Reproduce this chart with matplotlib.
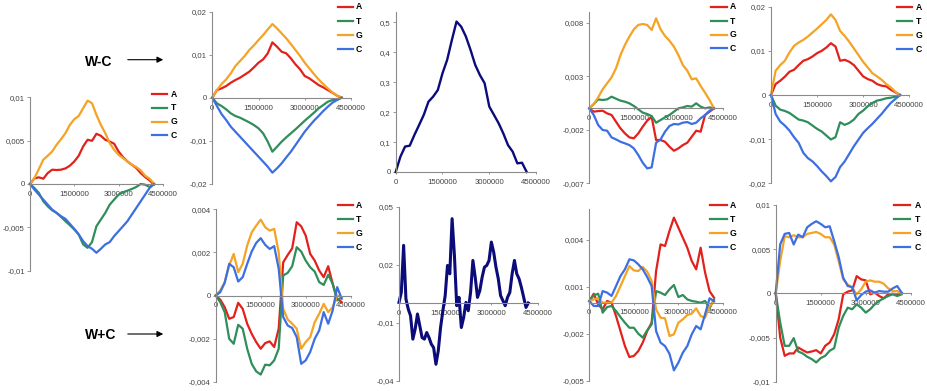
import matplotlib
matplotlib.use('Agg')
import matplotlib.pyplot as plt
from matplotlib.lines import Line2D
from matplotlib.patches import FancyArrowPatch

plt.rcParams['font.family'] = ['Liberation Sans', 'DejaVu Sans']

W, H = 927, 391

# genome position (Mb) sampling grid
X = [0, 0.15, 0.3, 0.45, 0.6, 0.75, 0.9, 1.05, 1.2, 1.35, 1.5, 1.65, 1.8, 1.95, 2.1,
     2.25, 2.4, 2.55, 2.7, 2.85, 3.0, 3.15, 3.3, 3.45, 3.6, 3.75, 3.9, 4.05, 4.2]
X_FINE = [0, 0.075, 0.15, 0.225, 0.3, 0.375, 0.45, 0.525, 0.6, 0.675, 0.75, 0.825, 0.9,
          0.975, 1.05, 1.125, 1.2, 1.275, 1.35, 1.425, 1.5, 1.575, 1.65, 1.725, 1.8, 1.875,
          1.95, 2.025, 2.1, 2.175, 2.25, 2.325, 2.4, 2.475, 2.55, 2.625, 2.7, 2.775, 2.85,
          2.925, 3.0, 3.075, 3.15, 3.225, 3.3, 3.375, 3.45, 3.525, 3.6, 3.675, 3.75, 3.825,
          3.9, 3.975, 4.05, 4.125, 4.2]
XTICKS = [0, 1.5, 3.0, 4.5]
XTICK_LABELS = ['0', '1500000', '3000000', '4500000']
BASES = ['A', 'T', 'G', 'C']
COLORS = {'A': '#E3211C', 'T': '#2F8E5A', 'G': '#F4A325', 'C': '#3C6FE2'}
NAVY = '#0B0B7A'

# ---- Panel 1 (left, W-C) ----
P1_A = [0, 0.00065, 0.00077, 0.00061, 0.00126, 0.00165, 0.00161, 0.00165, 0.0018, 0.00211,
        0.0026, 0.00326, 0.00433, 0.0051, 0.00498, 0.00579, 0.00556, 0.0051, 0.0049, 0.00464,
        0.00375, 0.0031, 0.0026, 0.00222, 0.00184, 0.00126, 0.0008, 0.00042, -0.00008]
P1_T = [0, -0.00046, -0.00103, -0.00199, -0.00257, -0.00303, -0.00333, -0.00379, -0.00429,
        -0.00475, -0.00525, -0.00582, -0.00697, -0.00736, -0.0067, -0.00487, -0.0041, -0.00333,
        -0.00238, -0.0018, -0.00123, -0.00096, -0.00077, -0.00057, -0.00034, 0, -0.00008,
        -0.00034, 0]
P1_G = [0, 0.00069, 0.00172, 0.0028, 0.00326, 0.00375, 0.00452, 0.00517, 0.00586, 0.00682,
        0.00747, 0.00785, 0.00873, 0.00962, 0.00931, 0.00797, 0.00682, 0.00586, 0.00471,
        0.00395, 0.00337, 0.00299, 0.0026, 0.00222, 0.00195, 0.00157, 0.00096, 0.00061, 0.00004]
P1_C = [0, -0.00065, -0.00123, -0.0018, -0.00238, -0.00295, -0.00333, -0.00372, -0.00402,
        -0.0046, -0.00517, -0.00582, -0.00659, -0.00716, -0.00747, -0.00793, -0.00747, -0.00697,
        -0.0067, -0.00601, -0.00544, -0.00487, -0.00429, -0.00352, -0.00276, -0.00199, -0.00123,
        -0.00046, 0]

# ---- Panel 2 (top) ----
P2_A = [0, 0.00178, 0.00217, 0.00271, 0.00349, 0.00411, 0.00465, 0.00535, 0.00605, 0.00705,
        0.00814, 0.00891, 0.01031, 0.01287, 0.01186, 0.0107, 0.01031, 0.00915, 0.00775, 0.00659,
        0.00504, 0.0045, 0.00372, 0.00295, 0.0024, 0.00178, 0.00116, 0.00047, 0]
P2_T = [0, -0.00132, -0.00194, -0.00271, -0.00364, -0.00426, -0.00465, -0.00519, -0.00574,
        -0.00636, -0.00713, -0.00829, -0.01023, -0.01256, -0.0114, -0.01023, -0.00922, -0.00829,
        -0.00736, -0.00636, -0.00535, -0.00442, -0.00349, -0.00248, -0.00171, -0.00093, -0.00054,
        -0.00039, 0]
P2_G = [0, 0.00178, 0.00318, 0.00426, 0.00566, 0.00736, 0.00853, 0.00969, 0.01109, 0.01217,
        0.01341, 0.01457, 0.01589, 0.01713, 0.01612, 0.01496, 0.0138, 0.01248, 0.01109, 0.00969,
        0.00814, 0.00682, 0.0055, 0.00426, 0.00318, 0.00217, 0.00124, 0.00047, 0]
P2_C = [0, -0.00194, -0.0038, -0.00519, -0.00674, -0.00791, -0.00907, -0.01023, -0.0114,
        -0.01256, -0.01372, -0.01488, -0.01605, -0.01744, -0.01643, -0.01527, -0.01388, -0.01256,
        -0.01101, -0.00946, -0.00791, -0.00659, -0.00535, -0.00426, -0.0031, -0.00209, -0.00116,
        -0.00054, 0]

# ---- Panel 3 (top, skew sum) ----
P3_S = [0, 0.051, 0.085, 0.088, 0.124, 0.157, 0.191, 0.235, 0.252, 0.274, 0.33, 0.375, 0.441,
        0.503, 0.486, 0.453, 0.408, 0.358, 0.324, 0.297, 0.219, 0.191, 0.163, 0.129, 0.09,
        0.068, 0.029, 0.031, 0]

# ---- Panel 4 (top) ----
P4_A = [0, -0.00031, -0.00025, -0.00022, -0.00047, -0.00062, -0.00125, -0.00187, -0.00234,
        -0.00271, -0.0028, -0.00234, -0.00171, -0.00115, -0.00078, -0.00296, -0.00296, -0.00312,
        -0.00358, -0.00396, -0.00374, -0.00343, -0.00321, -0.00265, -0.00209, -0.00218, -0.00062,
        -0.00031, 0]
P4_T = [0, 0.0004, 0.00084, 0.00078, 0.00084, 0.00109, 0.0009, 0.00072, 0.00062, 0.00047,
        0.00022, -0.00009, -0.0004, -0.00053, -0.00072, -0.00134, -0.00109, -0.00084, -0.00062,
        -0.00031, 0, 0.00009, 0.00022, 0.00016, 0.00047, 0.00016, 0, 0.00009, 0]
P4_G = [0, 0.0004, 0.00103, 0.00178, 0.00234, 0.0029, 0.00374, 0.00498, 0.00592, 0.0067,
        0.00738, 0.00779, 0.00788, 0.00779, 0.00732, 0.00841, 0.00738, 0.00676, 0.00632, 0.00576,
        0.00498, 0.00405, 0.00352, 0.00271, 0.0028, 0.00209, 0.00146, 0.00078, 0]
P4_C = [0, -0.00062, -0.00156, -0.00202, -0.00209, -0.00271, -0.0029, -0.00312, -0.00327,
        -0.00343, -0.00374, -0.00436, -0.00508, -0.00561, -0.00551, -0.00321, -0.0029, -0.00218,
        -0.00165, -0.00146, -0.0015, -0.00134, -0.00128, -0.00146, -0.00134, -0.00093, -0.00062,
        -0.00022, 0]

# ---- Panel 5 (top right) ----
P5_A = [0, 0.00248, 0.00323, 0.00414, 0.00526, 0.00572, 0.00677, 0.00775, 0.00812, 0.00872,
        0.00948, 0.01, 0.01075, 0.01173, 0.01098, 0.00775, 0.00797, 0.00752, 0.00677, 0.00549,
        0.00421, 0.00361, 0.00323, 0.00248, 0.00211, 0.00196, 0.0012, 0.0006, 0]
P5_T = [0, -0.00241, -0.00331, -0.00361, -0.00406, -0.00481, -0.00556, -0.00579, -0.00617,
        -0.00692, -0.00767, -0.00827, -0.00917, -0.01008, -0.00955, -0.00617, -0.00677, -0.00632,
        -0.00556, -0.00429, -0.00353, -0.00256, -0.0018, -0.00128, -0.00105, -0.00075, -0.0006,
        -0.00038, 0]
P5_G = [0, 0.00549, 0.00677, 0.00775, 0.00963, 0.01113, 0.01188, 0.01248, 0.01324, 0.01414,
        0.01504, 0.01602, 0.017, 0.01827, 0.017, 0.01451, 0.01338, 0.01203, 0.01053, 0.00902,
        0.00752, 0.00624, 0.00496, 0.00421, 0.00346, 0.00248, 0.00173, 0.00075, 0]
P5_C = [0, -0.00429, -0.00602, -0.00692, -0.00805, -0.00955, -0.01083, -0.01308, -0.01429,
        -0.01504, -0.01609, -0.0173, -0.01835, -0.01955, -0.01857, -0.01632, -0.01504, -0.01331,
        -0.01158, -0.01008, -0.00857, -0.00752, -0.00654, -0.00541, -0.00429, -0.00301, -0.0018,
        -0.0009, 0]

# ---- Panel 6 (bottom, W+C) ----
P6_A = [0, -0.00019, -0.00054, -0.00108, -0.001, -0.00034, -0.00062, -0.00131, -0.00178,
        -0.00216, -0.00247, -0.00221, -0.00213, -0.00239, -0.00154, 0.00154, 0.00188, 0.00219,
        0.0034, 0.00321, 0.00278, 0.00193, 0.00162, 0.00116, 0.00085, 0.00136, 0.00054,
        -0.00015, -0.00031]
P6_T = [0, -0.00031, -0.00077, -0.00201, -0.00224, -0.00136, -0.00154, -0.00247, -0.00317,
        -0.00352, -0.00367, -0.00321, -0.00324, -0.00301, -0.00247, 0.00093, 0.00105, 0.00136,
        0.00224, 0.00204, 0.00162, 0.00131, 0.00111, 0.00062, 0.00049, 0.00096, 0.00054,
        -0.00023, -0.00008]
P6_G = [0, 0.00023, 0.00062, 0.00139, 0.00193, 0.00108, 0.00147, 0.00232, 0.00293, 0.00324,
        0.00352, 0.00317, 0.00301, 0.00309, 0.002, -0.00062, -0.00111, -0.00131, -0.00154,
        -0.00247, -0.00216, -0.00193, -0.00124, -0.00085, -0.00039, -0.00077, -0.00054, 0,
        -0.00008]
P6_C = [0, 0.00015, 0.00059, 0.00147, 0.00131, 0.00065, 0.00085, 0.00147, 0.00204, 0.00244,
        0.00266, 0.00235, 0.00216, 0.00229, 0.00124, -0.001, -0.00139, -0.00151, -0.00193,
        -0.00317, -0.00301, -0.00262, -0.00201, -0.00162, -0.00077, -0.00131, -0.00069,
        0.00039, -0.00015]

# ---- Panel 7 (bottom, skew sum) ----
P7_S = [0.0005, 0.0057, 0.0300, 0.0023, -0.0029, -0.0064, -0.0185, -0.0133, -0.0055, -0.0116,
        -0.0177, -0.0185, -0.0151, -0.0177, -0.0211, -0.0229, -0.0315, -0.0246, -0.0125,
        -0.0038, 0.0040, 0.0196, 0.0153, 0.0438, 0.0248, -0.0012, 0.0031, -0.0125, -0.0073,
        0.0005, -0.0038, 0.0057, 0.0222, 0.0135, 0.0031, 0.0066, 0.0135, 0.0187, 0.0196,
        0.0222, 0.0317, 0.0265, 0.0187, 0.0127, 0.0040, 0.0014, -0.0012, 0.0031, 0.0057,
        0.0153, 0.0222, 0.0153, 0.0127, 0.0083, 0.0031, -0.0021, 0.0002]

# ---- Panel 8 (bottom) ----
P8_A = [0.0001, 0.00057, -0.00011, -0.00043, 0.00011, 0, -0.00085, -0.00181, -0.00277,
        -0.00347, -0.0034, -0.00309, -0.00255, -0.00181, -0.00128, 0.00202, 0.00372, 0.00362,
        0.00458, 0.00543, 0.00479, 0.00415, 0.00351, 0.00266, 0.00213, 0.00351, 0.00192,
        0.00074, 0.00032]
P8_T = [0.0001, 0.00047, 0.00057, -0.00064, -0.00028, -0.00021, -0.00053, -0.00092, -0.00128,
        -0.0016, -0.0016, -0.00198, -0.00223, -0.00177, -0.00138, 0.00074, 0.00064, 0.00049,
        0.00085, 0.00113, 0.00036, 0.00049, 0.00021, 0.00011, 0.00006, 0, 0.00011, -0.00036,
        0.00021]
P8_G = [0.0001, 0.00021, 0.00028, 0, 0, 0, 0.00043, 0.00106, 0.0017, 0.00234, 0.00206,
        0.00202, 0.00228, 0.00198, 0.00138, -0.00043, -0.00096, -0.001, -0.00213, -0.00202,
        -0.00128, -0.00106, -0.00079, -0.0007, -0.00036, -0.00085, -0.00096, -0.00021, 0.00006]
P8_C = [0.0001, -0.00021, -0.00021, 0.00074, 0.00064, 0.00043, 0.00106, 0.0017, 0.00213,
        0.00277, 0.0027, 0.00245, 0.00213, 0.00164, 0.00106, -0.00181, -0.00255, -0.00277,
        -0.00326, -0.00432, -0.00383, -0.00319, -0.00277, -0.00202, -0.00149, -0.0017,
        -0.00074, 0.00028, 0.0001]

# ---- Panel 9 (bottom right) ----
P9_A = [0, -0.005, -0.00707, -0.0068, -0.0068, -0.00613, -0.00643, -0.00669, -0.00658,
        -0.00643, -0.0068, -0.00594, -0.00556, -0.00462, -0.00293, -0.00011, 0.00019, 0.00034,
        0.00195, 0.00158, 0.00147, -0.00011, 0.00008, -0.0003, -0.00056, -0.00011, -0.00004,
        -0.00011, 0]
P9_T = [0, -0.00331, -0.00594, -0.00594, -0.00507, -0.00658, -0.0068, -0.00718, -0.00744,
        -0.00782, -0.00733, -0.00707, -0.0065, -0.0062, -0.00387, -0.00256, -0.00162, -0.0018,
        -0.00124, -0.00162, -0.00218, -0.0018, -0.00124, -0.00086, -0.00056, -0.0003, -0.00011,
        -0.0003, -0.00011]
P9_G = [0, 0.00365, 0.00647, 0.00635, 0.00658, 0.00635, 0.00635, 0.00673, 0.00684, 0.00695,
        0.00673, 0.00635, 0.00635, 0.00553, 0.00365, 0.00158, 0.00101, 0.00064, -0.00011,
        0.00045, 0.00132, 0.00147, 0.00132, 0.00132, 0.00109, 0.00056, 0.00026, 0.00026, 0]
P9_C = [0, 0.00553, 0.00673, 0.00684, 0.00553, 0.00665, 0.00635, 0.00748, 0.00786, 0.00816,
        0.00786, 0.00748, 0.00759, 0.0059, 0.0041, 0.00177, 0.00083, 0.00071, -0.00079,
        -0.00019, 0.00019, 0.00034, 0.00008, 0.00026, 0.00019, 0.00019, 0.00056, 0.00083,
        0.00008]

fig = plt.figure(figsize=(W / 100, H / 100), dpi=100)
fig.patch.set_facecolor('white')

AXIS_GREY = '#8a8a8a'
TICK_TXT = '#444444'


def make_axes(left, end, top, bottom, ylim, yticks, ylabels):
    width = (end - left) * 4.5 / 4.2
    ax = fig.add_axes([left / W, 1 - bottom / H, width / W, (bottom - top) / H])
    ax.set_facecolor('none')
    ax.set_xlim(0, 4.5)
    ax.set_ylim(*ylim)
    for s in ('top', 'right'):
        ax.spines[s].set_visible(False)
    ax.spines['bottom'].set_position(('data', 0))
    for s in ('left', 'bottom'):
        ax.spines[s].set_color(AXIS_GREY)
        ax.spines[s].set_linewidth(0.8)
    ax.set_xticks(XTICKS)
    ax.set_xticklabels(XTICK_LABELS)
    ax.set_yticks(yticks)
    ax.set_yticklabels(ylabels)
    ax.tick_params(axis='x', length=1.5, width=0.6, color=AXIS_GREY, pad=3.4,
                   labelsize=5.6, labelcolor=TICK_TXT, direction='out')
    ax.tick_params(axis='y', length=2.2, width=0.6, color=AXIS_GREY, pad=1.5,
                   labelsize=5.6, labelcolor=TICK_TXT, direction='out')
    return ax


def plot_bases(ax, series):
    for b, vals in zip(BASES, series):
        ax.plot(X, vals, color=COLORS[b], lw=1.6, clip_on=False, solid_joinstyle='round')


def legend(x0, x1, xt, ys):
    for b, y in zip(BASES, ys):
        fig.add_artist(Line2D([x0 / W, x1 / W], [1 - y / H, 1 - y / H],
                              color=COLORS[b], lw=1.6, transform=fig.transFigure))
        fig.text(xt / W, 1 - y / H, b, fontsize=6.2, weight='bold', va='center', ha='left',
                 color='black')


Y01 = ([-0.01, -0.005, 0, 0.005, 0.01], ['-0,01', '-0,005', '0', '0,005', '0,01'])
Y02 = ([-0.02, -0.01, 0, 0.01, 0.02], ['-0,02', '-0,01', '0', '0,01', '0,02'])

# Panel 1
ax1 = make_axes(30, 154, 97.3, 270.7, (-0.01, 0.01), *Y01)
plot_bases(ax1, [P1_A, P1_T, P1_G, P1_C])
legend(152, 167, 170.5, [94.3, 108, 121.7, 135.3])

# Panel 2
ax2 = make_axes(212.3, 341.7, 11.7, 183.7, (-0.02, 0.02), *Y02)
plot_bases(ax2, [P2_A, P2_T, P2_G, P2_C])
legend(338, 353, 356, [6.7, 21, 35, 49])

# Panel 3
ax3 = make_axes(395.7, 526.7, 11.7, 172, (0, 0.536),
                [0, 0.1, 0.2, 0.3, 0.4, 0.5], ['0', '0,1', '0,2', '0,3', '0,4', '0,5'])
ax3.plot(X, P3_S, color=NAVY, lw=1.7, clip_on=False)

# Panel 4
ax4 = make_axes(589.3, 714, 12.0, 183.3, (-0.007, 0.009),
                [-0.007, -0.002, 0.003, 0.008], ['-0,007', '-0,002', '0,003', '0,008'])
plot_bases(ax4, [P4_A, P4_T, P4_G, P4_C])
legend(711, 727, 730, [6.7, 21.3, 34.7, 48.3])

# Panel 5
ax5 = make_axes(771, 900, 6.7, 183.3, (-0.02, 0.02), *Y02)
plot_bases(ax5, [P5_A, P5_T, P5_G, P5_C])
legend(897, 912, 915.5, [7, 21, 35, 49])

# Panel 6
ax6 = make_axes(215.7, 341.7, 209.3, 381.7, (-0.004, 0.004),
                [-0.004, -0.002, 0, 0.002, 0.004], ['-0,004', '-0,002', '0', '0,002', '0,004'])
plot_bases(ax6, [P6_A, P6_T, P6_G, P6_C])
legend(338, 353, 356, [205, 219, 233, 247])

# Panel 7
ax7 = make_axes(399, 528.3, 206.7, 380.7, (-0.04, 0.05),
                [-0.04, -0.01, 0.02, 0.05], ['-0,04', '-0,01', '0,02', '0,05'])
ax7.plot(X_FINE, P7_S, color=NAVY, lw=2.2, clip_on=False)

# Panel 8
ax8 = make_axes(589.3, 714, 208.7, 381, (-0.005, 0.006),
                [-0.005, -0.002, 0.001, 0.004], ['-0,005', '-0,002', '0,001', '0,004'])
plot_bases(ax8, [P8_A, P8_T, P8_G, P8_C])
legend(710, 727, 730, [205, 219, 233, 247])

# Panel 9
ax9 = make_axes(775.7, 901.7, 205, 381.7, (-0.01, 0.01), *Y01)
plot_bases(ax9, [P9_A, P9_T, P9_G, P9_C])
legend(894, 910, 915, [205, 219, 233, 247])

# W-C / W+C labels with arrows
for label, ty, ay in (('W-C', 61.7, 59.7), ('W+C', 335, 334)):
    fig.text(85 / W, 1 - ty / H, label, fontsize=10, weight='bold', va='center', ha='left')
    fig.add_artist(FancyArrowPatch((125 / W, 1 - ay / H), (166 / W, 1 - ay / H),
                                   transform=fig.transFigure, arrowstyle='-|>',
                                   mutation_scale=9, lw=0.8, color='black'))

fig.savefig('out.png', dpi=100, facecolor='white')
